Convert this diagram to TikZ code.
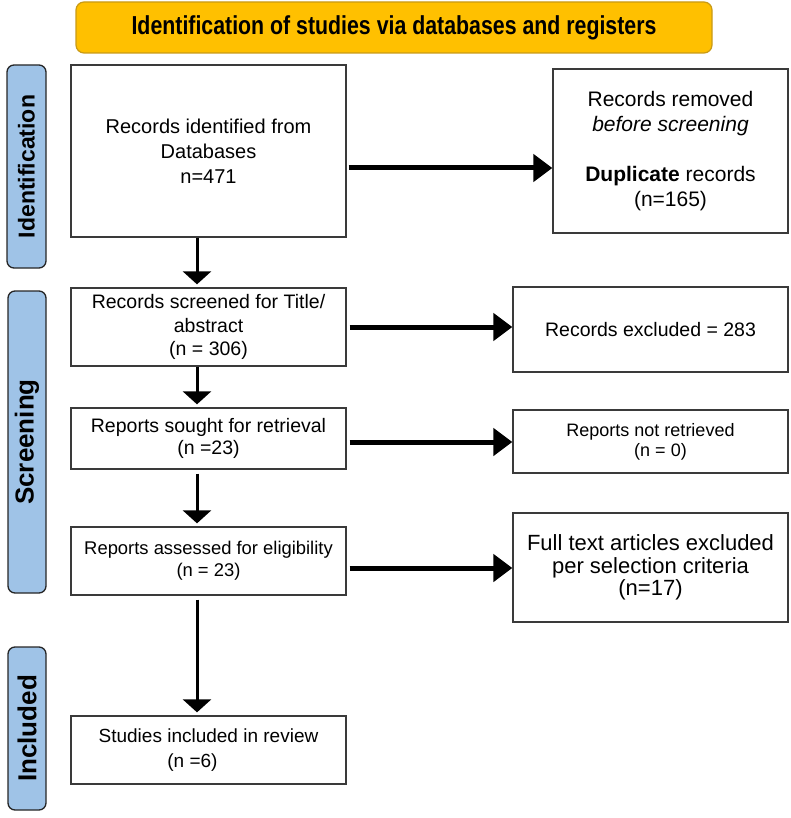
\documentclass[tikz,border=0pt]{standalone}
\usepackage{fontspec}
\setmainfont{Liberation Sans}
\newfontfamily\bannerfont[FakeStretch=0.82]{Liberation Sans}
\usetikzlibrary{arrows.meta}
\definecolor{bannerfill}{HTML}{FFC000}
\definecolor{bannerline}{HTML}{C99A16}
\definecolor{phasefill}{HTML}{9FC3E7}
\definecolor{boxline}{HTML}{3A3A3A}
\tikzset{
	recbox/.style={draw=boxline, line width=1.3pt, align=center, inner sep=0pt},
	phasebox/.style={draw=black!85, fill=phasefill, line width=1.3pt, rounded corners=7pt, rotate=90, inner sep=0pt},
	harrow/.style={line width=5pt, -{Triangle[length=19pt,width=27pt]}},
	varrow/.style={line width=3pt, -{Triangle[length=13pt,width=28pt]}}
}

\begin{document}
\begin{tikzpicture}[x=1pt, y=-1pt]
			%%%%% START %%%%%
			\useasboundingbox (0,0) rectangle (790,818);
			
			\node[draw=bannerline, fill=bannerfill, line width=1.2pt, rounded corners=8pt, minimum width=636pt, minimum height=51pt, font=\bannerfont\bfseries\fontsize{26}{30}\selectfont] (banner) at (394,27.5) {Identification of studies via databases and registers};
			
			\node[phasebox, minimum width=203pt, minimum height=39pt, font=\bfseries\fontsize{23}{28}\selectfont] (identph) at (26.5,166.5) {Identification};
			\node[phasebox, minimum width=302pt, minimum height=38pt, font=\bfseries\fontsize{26}{30}\selectfont] (screenph) at (27,442) {Screening};
			\node[phasebox, minimum width=163pt, minimum height=38pt, font=\bfseries\fontsize{26}{30}\selectfont] (inclph) at (27,728.5) {Included};
			
			\node[recbox, minimum width=275pt, minimum height=172pt, font=\fontsize{20}{25}\selectfont] (idrec) at (208.5,151) {Records identified from\\Databases\\n=471};
			\node[recbox, minimum width=275pt, minimum height=78pt, font=\fontsize{19.5}{23.5}\selectfont] (scrrec) at (208.5,327) {Records screened for Title/\\abstract\\(n = 306)};
			\node[recbox, minimum width=275pt, minimum height=61pt, font=\fontsize{19.5}{22}\selectfont] (soughtrec) at (208.5,438.5) {Reports sought for retrieval\\(n =23)};
			\node[recbox, minimum width=275pt, minimum height=68pt, font=\fontsize{18.4}{22}\selectfont] (assessrec) at (208.5,561) {Reports assessed for eligibility\\(n = 23)};
			\node[recbox, minimum width=275pt, minimum height=68pt, font=\fontsize{19}{25}\selectfont] (inclrec) at (208.5,750) {Studies included in review\\(n =6)\rule{32pt}{0pt}};
			
			\node[recbox, minimum width=235pt, minimum height=164pt, font=\fontsize{21}{25}\selectfont] (dupbox) at (670.5,151) {Records removed\\\textit{before screening}\\[25pt]\textbf{Duplicate} records\\(n=165)};
			\node[recbox, minimum width=275pt, minimum height=85pt, font=\fontsize{19.5}{24}\selectfont] (exclbox) at (650.5,329.5) {Records excluded = 283};
			\node[recbox, minimum width=275pt, minimum height=63pt, font=\fontsize{18}{20}\selectfont] (notretbox) at (650.5,441.5) {Reports not retrieved\\\rule{20pt}{0pt}(n = 0)};
			\node[recbox, minimum width=275pt, minimum height=109pt, font=\fontsize{22}{22.5}\selectfont] (fullbox) at (650.5,567.5) {Full text articles excluded\\per selection criteria\\(n=17)};
			
			\draw[harrow, shorten <=2pt] (idrec.east |- 0,168) -- (dupbox.west |- 0,168);
			\draw[harrow, shorten <=3pt] (scrrec.east |- 0,327) -- (exclbox.west |- 0,327);
			\draw[harrow, shorten <=3pt] (soughtrec.east |- 0,442) -- (notretbox.west |- 0,442);
			\draw[harrow, shorten <=3pt] (assessrec.east |- 0,568) -- (fullbox.west |- 0,568);
			
			\draw[varrow, shorten >=3pt] (idrec.south -| 197,0) -- (scrrec.north -| 197,0);
			\draw[varrow, shorten >=3pt] (scrrec.south -| 197,0) -- (soughtrec.north -| 197,0);
			\draw[varrow, shorten <=4pt, shorten >=3pt] (soughtrec.south -| 197,0) -- (assessrec.north -| 197,0);
			\draw[varrow, shorten <=4pt, shorten >=3pt] (assessrec.south -| 197,0) -- (inclrec.north -| 197,0);
			
			%%%%% END %%%%%
\end{tikzpicture}
\end{document}
